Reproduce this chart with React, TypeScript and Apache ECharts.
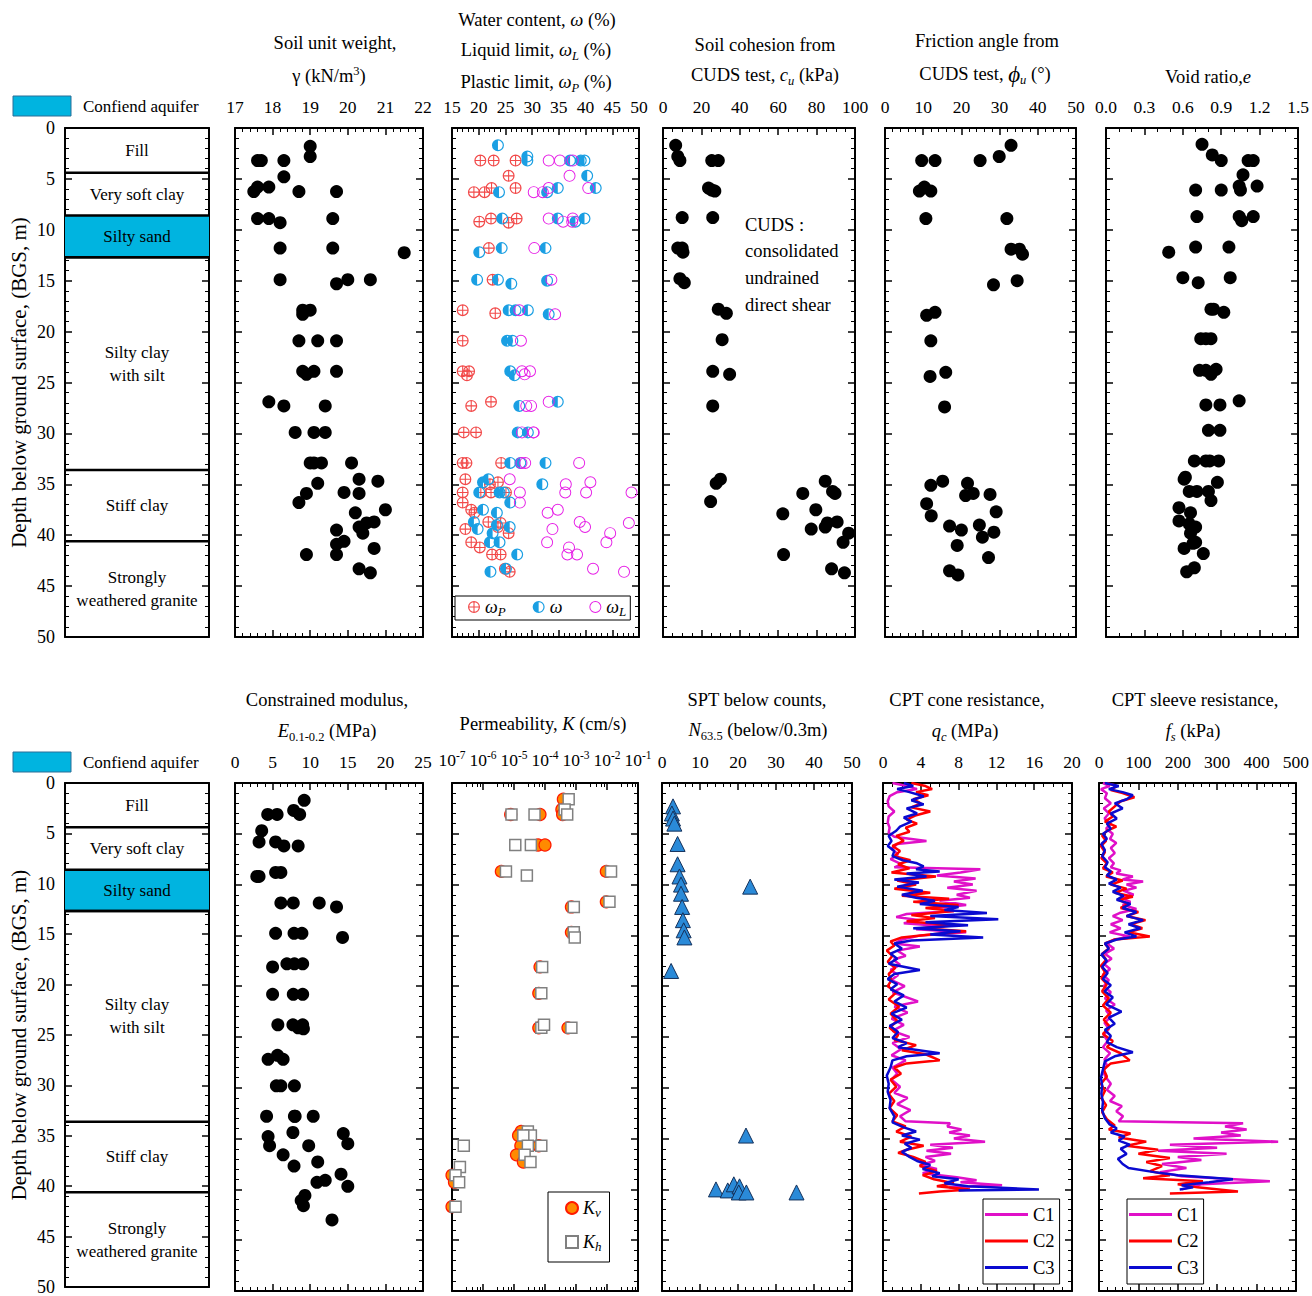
import React, { useEffect, useRef } from "react";
import * as echarts from "echarts";

const SERIF = "'Liberation Serif', 'Times New Roman', 'DejaVu Serif', serif";

// ---------------- data ----------------
const layerNames = ["Fill", "Very soft clay", "Silty sand", "Silty clay\nwith silt", "Stiff clay", "Strongly\nweathered granite"];
const layerTops = [0, 4.4, 8.6, 12.7, 33.6, 40.6];
const layerBottoms = [4.4, 8.6, 12.7, 33.6, 40.6, 50];
const layerIsAquifer = [false, false, true, false, false, false];

// [value, depth]
const unitWeight = [
  [19.0, 1.8], [19.0, 2.8], [17.6, 3.2], [17.7, 3.2], [18.3, 3.2], [18.3, 4.8], [17.6, 5.8], [17.9, 5.8], [17.5, 6.25],
  [18.7, 6.25], [19.7, 6.25], [17.6, 8.9], [17.9, 8.9], [18.2, 9.3], [19.6, 8.9], [18.2, 11.8], [19.6, 11.8], [21.5, 12.25],
  [18.2, 14.9], [19.7, 15.3], [20.0, 14.9], [20.6, 14.9], [18.8, 17.9], [19.0, 17.9], [18.8, 18.3],
  [18.7, 20.9], [19.2, 20.9], [19.7, 20.9], [18.8, 23.9], [18.9, 24.2], [19.1, 23.9], [19.7, 23.9], [17.9, 26.9], [18.3, 27.3],
  [19.4, 27.3], [18.6, 29.9], [19.1, 29.9], [19.4, 29.9], [19.0, 32.9], [19.1, 32.9], [19.3, 32.9], [20.1, 32.9], [20.3, 34.5],
  [20.8, 34.7], [19.2, 34.9], [18.9, 35.9], [19.9, 35.8], [20.3, 35.9], [18.7, 36.8], [21.0, 37.5], [20.2, 37.8], [20.7, 38.7],
  [20.5, 38.8], [20.3, 39.2], [20.4, 39.8], [19.7, 39.5], [19.7, 40.9], [19.9, 40.6], [19.7, 41.9], [18.9, 41.9], [20.7, 41.3],
  [20.3, 43.3], [20.6, 43.7],
];

const plasticLimit = [
  [20.3, 3.2], [22.8, 3.2], [26.9, 3.2], [25.6, 4.7], [22.4, 5.9], [26.9, 5.9], [19.1, 6.3], [21.1, 6.3], [22.3, 8.9],
  [27.1, 8.9], [20.1, 9.2], [25.6, 9.3], [21.9, 11.8], [22.6, 14.9], [17.0, 17.9], [23.1, 18.2],
  [17.0, 20.9], [17.0, 23.9], [18.2, 23.9], [17.8, 24.3], [22.3, 26.9], [18.6, 27.3], [17.2, 29.9], [19.5, 29.9], [17.0, 32.9],
  [17.7, 32.9], [24.2, 32.9], [17.5, 34.5], [22.1, 35.0], [23.6, 34.8], [17.0, 35.8], [20.4, 35.8], [22.3, 35.8], [25.1, 35.8],
  [17.0, 36.8], [18.6, 37.5], [19.2, 37.8], [21.8, 38.7], [24.1, 38.8], [17.5, 39.4], [23.6, 39.2], [25.6, 39.8], [18.6, 40.7],
  [20.2, 41.2], [22.5, 41.9], [24.1, 41.9], [24.9, 43.3], [25.8, 43.6],
];
const waterContent = [
  [23.6, 1.7], [29.1, 2.8], [29.1, 3.2], [37.1, 3.2], [39.1, 3.2], [39.8, 3.2], [40.3, 4.7], [41.9, 5.9], [34.8, 5.9], [32.8, 6.3],
  [23.8, 6.3], [24.4, 8.9], [34.8, 8.9], [39.8, 8.9], [38.1, 9.2], [24.3, 11.8], [32.5, 11.8], [20.1, 12.2], [19.7, 14.9],
  [23.6, 14.9], [32.8, 15.0], [26.1, 15.3], [25.6, 17.9], [26.9, 17.9], [29.2, 17.9], [33.1, 18.3],
  [25.3, 20.9], [26.3, 20.9], [25.9, 23.9], [26.7, 24.3], [34.8, 26.9], [27.6, 27.3], [27.3, 29.9], [29.2, 29.9], [25.9, 32.9],
  [27.8, 32.9], [32.5, 32.9], [21.8, 34.5], [20.8, 34.8], [31.9, 35.0], [20.1, 35.8], [23.9, 35.8], [24.7, 35.8], [25.9, 36.8],
  [20.8, 37.5], [23.4, 37.8], [19.1, 38.7], [23.4, 39.0], [19.8, 39.4], [25.8, 39.2], [22.6, 39.8], [22.1, 40.7], [23.9, 40.7],
  [27.2, 41.9], [25.1, 43.3], [22.2, 43.6],
];
const liquidLimit = [
  [33.1, 3.2], [35.2, 3.2], [37.6, 3.2], [37.0, 4.7], [33.1, 5.9], [40.5, 5.9], [30.3, 6.3], [32.0, 6.3], [33.1, 8.9], [37.6, 8.9],
  [35.8, 9.2], [37.5, 9.2], [30.4, 11.8], [33.6, 14.9], [27.6, 17.9], [34.3, 18.3],
  [27.9, 20.9], [28.1, 23.9], [29.6, 23.9], [28.6, 24.2], [33.1, 26.9], [28.9, 27.3], [29.8, 27.3], [28.1, 29.9], [30.2, 29.9],
  [30.3, 29.9], [28.0, 32.9], [28.7, 32.9], [38.8, 32.9], [25.8, 34.5], [36.3, 35.0], [40.9, 34.8], [27.7, 35.8], [36.2, 35.8],
  [40.1, 35.8], [48.6, 35.8], [27.7, 36.8], [34.8, 37.5], [32.9, 37.8], [38.9, 38.7], [48.1, 38.8], [33.8, 39.4], [39.9, 39.2],
  [44.6, 39.8], [32.8, 40.7], [43.9, 40.7], [36.9, 41.2], [36.6, 41.9], [38.4, 41.9], [41.4, 43.3], [47.2, 43.6],
];

const cohesion = [
  [6.6, 1.7], [7.7, 2.8], [8.8, 3.2], [25.4, 3.2], [28.8, 3.2], [23.7, 5.9], [25.4, 6.1], [27.0, 6.2], [10.0, 8.8], [25.9, 8.8],
  [7.7, 11.8], [10.0, 11.8], [10.4, 12.2], [8.8, 14.8], [11.1, 15.2], [28.8, 17.8], [33.0, 18.2], [30.8, 20.8], [25.9, 23.9],
  [34.7, 24.2], [25.9, 27.3], [27.7, 34.9], [29.9, 34.5], [24.8, 36.7], [84.5, 34.7], [72.8, 35.9], [88.3, 35.7], [89.6, 35.9],
  [62.4, 37.9], [79.6, 37.5], [90.7, 38.7], [85.6, 38.8], [84.5, 39.2], [77.2, 39.4], [96.7, 39.8], [93.8, 40.7], [62.8, 41.9],
  [87.8, 43.3], [94.5, 43.7],
];
const frictionAngle = [
  [33.0, 1.7], [29.9, 2.8], [24.9, 3.2], [9.6, 3.2], [13.1, 3.2], [9.0, 6.2], [10.3, 5.8], [12.0, 6.2], [10.7, 8.9], [31.9, 8.9],
  [33.0, 11.9], [35.2, 11.9], [36.0, 12.4], [34.6, 15.0], [28.4, 15.4], [10.9, 18.4], [13.1, 18.1], [12.0, 20.9], [11.8, 24.4],
  [15.9, 24.0], [15.6, 27.4], [12.0, 35.1], [15.1, 34.7], [21.6, 34.9], [21.1, 36.1], [23.1, 35.9], [27.5, 36.0], [10.9, 36.9],
  [29.1, 37.7], [12.1, 38.1], [16.9, 39.1], [20.0, 39.5], [24.7, 39.0], [28.5, 39.7], [25.5, 40.2], [18.9, 41.0], [27.1, 42.2],
  [16.9, 43.5], [19.1, 43.9],
];
const voidRatio = [
  [0.75, 1.6], [0.83, 2.65], [0.9, 3.2], [1.11, 3.2], [1.15, 3.2], [1.07, 4.6], [0.7, 6.1], [0.9, 6.1], [1.04, 5.7], [1.05, 6.1],
  [1.18, 5.7], [0.71, 8.7], [1.04, 8.7], [1.06, 9.1], [1.15, 8.7], [0.7, 11.7], [0.49, 12.2], [0.96, 11.7], [0.6, 14.7],
  [0.72, 15.2], [0.97, 14.7], [0.82, 17.8], [0.84, 17.8], [0.92, 18.1], [0.74, 20.7], [0.78, 20.7], [0.82, 20.7], [0.73, 23.8],
  [0.78, 23.8], [0.86, 23.7], [0.82, 24.2], [0.78, 27.2], [0.89, 27.2], [1.04, 26.8], [0.8, 29.7], [0.89, 29.7], [0.69, 32.7],
  [0.78, 32.7], [0.81, 32.7], [0.88, 32.7], [0.61, 34.5], [0.62, 34.3], [0.87, 34.8], [0.65, 35.7], [0.71, 35.7], [0.8, 35.7],
  [0.82, 36.6], [0.57, 37.3], [0.66, 37.8], [0.57, 38.6], [0.65, 38.9], [0.7, 39.2], [0.66, 39.8], [0.7, 40.7], [0.68, 40.8],
  [0.61, 41.3], [0.76, 41.8], [0.69, 43.2], [0.63, 43.6],
];

const modulus = [
  [9.2, 1.7], [7.8, 2.7], [8.6, 3.1], [4.35, 3.1], [5.6, 3.1], [3.55, 4.7], [3.2, 5.8], [5.4, 5.8], [6.5, 6.2], [8.4, 6.2],
  [2.9, 9.2], [3.2, 9.2], [5.4, 8.8], [6.1, 8.8], [6.1, 11.8], [7.75, 11.8], [11.2, 11.8], [13.5, 12.2], [5.4, 14.8], [7.85, 14.8],
  [8.9, 14.8], [14.3, 15.2], [5.0, 18.1], [6.9, 17.8], [7.9, 17.8], [9.0, 17.8], [5.0, 20.8], [7.75, 20.8], [9.0, 20.8],
  [5.7, 23.8], [7.7, 23.8], [8.4, 24.1], [9.0, 23.8], [9.1, 24.2], [4.4, 27.2], [5.65, 26.8], [6.4, 27.2], [5.5, 29.8],
  [6.1, 29.8], [7.9, 29.8], [4.2, 32.8], [7.9, 32.8], [8.0, 32.8], [10.4, 32.8], [4.4, 34.8], [4.6, 35.7], [7.7, 34.4],
  [9.8, 35.7], [14.4, 34.5], [15.0, 35.5], [6.4, 36.6], [11.0, 37.3], [7.85, 37.7], [14.1, 38.5], [10.9, 39.3], [12.0, 39.1],
  [15.0, 39.7], [9.3, 40.6], [8.8, 41.1], [9.1, 41.6], [12.9, 43.0],
];

const permKv = [
  [3.9e-4, 1.6], [3.5e-4, 2.6], [7.8e-6, 3.1], [6.9e-5, 3.1], [3.7e-4, 3.1], [6.0e-5, 6.1], [1.0e-4, 6.1], [3.9e-6, 8.7],
  [9.5e-3, 8.7], [9.5e-3, 11.7], [7.1e-4, 12.2], [7.1e-4, 14.7], [6.9e-5, 18.1], [6.3e-5, 20.7], [6.3e-5, 24.1], [5.5e-4, 24.1],
  [1.7e-5, 34.3], [1.4e-5, 34.7], [1.66e-5, 35.7], [6.3e-5, 35.7], [1.2e-5, 36.6], [2.0e-5, 37.3], [1.0e-7, 38.6],
  [1.2e-7, 39.3], [1.0e-7, 41.7],
];
const permKh = [
  [5.8e-4, 1.6], [4.3e-4, 2.6], [8.3e-6, 3.1], [4.6e-5, 3.1], [5.2e-4, 3.1], [1.1e-5, 6.1], [3.5e-5, 6.1], [5.5e-6, 8.7],
  [1.35e-2, 8.7], [2.6e-5, 9.1], [1.2e-2, 11.7], [8.5e-4, 12.2], [8.5e-4, 14.7], [9.1e-4, 15.2], [8.1e-5, 18.1], [7.6e-5, 20.7],
  [7.6e-5, 24.1], [9.3e-5, 23.8], [7.1e-4, 24.1], [2.8e-5, 34.3], [3.5e-5, 34.7], [2.0e-5, 34.7], [2.8e-5, 35.7], [7.6e-5, 35.7],
  [2.4e-7, 35.7], [2.2e-5, 36.6], [3.4e-5, 37.3], [1.8e-7, 37.8], [1.3e-7, 38.6], [1.7e-7, 39.3], [1.3e-7, 41.7],
];

const sptN = [
  [2.9, 2.3], [2.6, 3.0], [2.9, 3.5], [3.25, 4.0], [4.1, 6.0], [4.1, 8.0], [4.6, 9.2], [5.0, 10.0], [5.0, 10.9], [5.3, 12.2],
  [5.5, 13.5], [5.7, 14.5], [5.9, 15.2], [23.2, 10.2], [2.4, 18.5], [22.1, 34.7], [14.2, 40.0], [17.3, 40.1], [18.9, 39.5],
  [20.4, 39.7], [20.2, 40.3], [22.2, 40.3], [35.4, 40.3],
];

const qcC1 = [
  [1.0, 0.0], [2.5, 0.3], [3.6, 0.6], [1.5, 0.9], [0.7, 1.3], [0.5, 1.8], [0.6, 2.3], [1.2, 2.8], [0.6, 3.3], [0.5, 3.9], [0.7, 4.4],
  [0.6, 4.9], [1.2, 5.3], [4.6, 5.7], [1.5, 6.0], [0.9, 6.5], [1.6, 7.0], [0.8, 7.5], [2.0, 8.0], [1.2, 8.3], [10.3, 8.5], [8.2, 8.8],
  [5.7, 9.1], [9.8, 9.4], [7.5, 9.7], [9.5, 10.0], [6.8, 10.3], [9.9, 10.6], [7.8, 11.0], [9.2, 11.3], [6.0, 11.6], [8.8, 12.0],
  [5.7, 12.3], [7.5, 12.6], [2.5, 12.9], [1.4, 13.2], [3.9, 13.5], [2.2, 13.8], [6.5, 14.1], [3.5, 14.4], [8.8, 14.7], [4.0, 15.0],
  [2.0, 15.4], [1.2, 15.8], [3.9, 16.1], [1.5, 16.5], [2.4, 17.0], [1.1, 17.4], [1.8, 17.9], [0.8, 18.4], [1.6, 18.9], [0.9, 19.4],
  [2.3, 20.0], [1.0, 20.6], [3.7, 21.5], [1.2, 22.0], [2.6, 22.6], [0.9, 23.2], [2.2, 23.8], [1.0, 24.4], [2.8, 25.0], [1.0, 25.6],
  [1.9, 26.2], [0.9, 26.8], [2.4, 27.3], [1.0, 28.0], [1.5, 28.6], [0.9, 29.2], [1.8, 29.9], [1.2, 30.5], [2.6, 31.0], [1.5, 31.6],
  [2.9, 32.2], [1.8, 32.8], [2.4, 33.3], [7.1, 33.5], [6.8, 33.8], [8.3, 34.1], [7.0, 34.4], [9.2, 34.7], [7.5, 35.0], [10.8, 35.3],
  [5.0, 35.6], [7.4, 35.9], [4.6, 36.2], [7.2, 36.5], [4.5, 36.8], [5.5, 37.2], [3.9, 37.6], [5.7, 38.0], [4.2, 38.4], [7.8, 38.8],
  [9.9, 39.1], [8.2, 39.3], [12.6, 39.6], [7.0, 39.8], [8.0, 40.0],
];
const qcC2 = [
  [3.0, 0.0], [4.5, 0.3], [5.2, 0.6], [3.5, 0.9], [4.8, 1.2], [3.2, 1.6], [4.0, 2.0], [3.0, 2.4], [5.0, 2.8], [3.4, 3.2], [2.5, 3.6],
  [3.6, 4.0], [2.4, 4.4], [2.8, 4.8], [1.4, 5.2], [2.2, 5.7], [1.0, 6.2], [1.8, 6.7], [1.2, 7.2], [2.9, 7.6], [1.6, 8.0], [2.8, 8.4],
  [0.9, 8.8], [5.6, 9.2], [1.5, 9.6], [3.5, 10.0], [1.2, 10.4], [5.0, 10.8], [2.0, 11.1], [7.0, 11.4], [3.2, 11.7], [8.0, 12.0],
  [4.5, 12.3], [7.5, 12.6], [3.0, 13.0], [5.5, 13.3], [2.5, 13.6], [7.5, 14.0], [4.0, 14.3], [8.8, 14.6], [5.0, 14.9], [2.0, 15.2],
  [0.8, 15.6], [1.2, 16.0], [0.4, 16.5], [1.0, 17.0], [0.5, 17.6], [1.3, 18.2], [0.6, 18.8], [0.9, 19.4], [0.5, 20.0], [1.4, 20.6],
  [0.6, 21.3], [1.7, 22.0], [0.8, 22.7], [1.5, 23.4], [0.7, 24.1], [1.6, 24.8], [1.2, 25.3], [3.5, 25.8], [2.0, 26.3], [4.5, 26.7],
  [6.0, 27.3], [2.5, 27.6], [1.2, 28.0], [1.9, 28.6], [0.8, 29.2], [1.4, 29.9], [0.6, 30.6], [1.2, 31.3], [0.7, 32.0], [1.5, 32.7],
  [1.0, 33.3], [2.4, 33.8], [1.4, 34.3], [3.0, 34.8], [1.8, 35.3], [4.3, 35.7], [2.5, 36.1], [1.6, 36.4], [3.2, 36.8], [4.5, 37.3],
  [3.9, 37.7], [5.7, 38.2], [4.2, 38.6], [5.4, 39.0], [7.5, 39.4], [5.7, 39.7], [9.2, 40.0], [6.0, 40.2], [3.8, 40.4],
];
const qcC3 = [
  [2.2, 0.0], [3.2, 0.3], [1.5, 0.6], [2.8, 0.9], [4.3, 1.3], [3.0, 1.7], [4.3, 2.1], [2.5, 2.5], [3.6, 3.0], [2.2, 3.4], [3.0, 3.8],
  [1.8, 4.3], [1.4, 4.7], [0.6, 5.2], [0.9, 5.7], [0.5, 6.2], [1.2, 6.7], [1.0, 7.2], [2.1, 7.6], [3.6, 7.9], [4.3, 8.2], [3.5, 8.5],
  [6.0, 8.7], [2.5, 8.9], [4.6, 9.2], [1.2, 9.5], [3.8, 9.8], [1.5, 10.2], [4.2, 10.6], [2.0, 11.0], [3.5, 11.3], [5.5, 11.6],
  [3.9, 11.9], [8.0, 12.2], [6.5, 12.5], [11.0, 12.8], [5.0, 13.1], [12.2, 13.4], [4.5, 13.7], [9.0, 14.0], [3.2, 14.3], [8.2, 14.6],
  [5.0, 14.9], [10.6, 15.2], [3.0, 15.5], [1.2, 15.8], [2.0, 16.3], [0.8, 16.8], [1.5, 17.3], [0.6, 17.8], [3.9, 18.4], [1.2, 18.8],
  [0.5, 19.3], [1.5, 19.8], [0.8, 20.3], [2.2, 20.9], [1.2, 21.5], [2.5, 22.1], [0.9, 22.7], [2.0, 23.3], [0.7, 23.9], [1.6, 24.5],
  [1.0, 25.1], [2.5, 25.6], [1.6, 26.0], [6.0, 26.6], [2.5, 26.9], [1.0, 27.3], [0.8, 28.0], [0.4, 28.8], [0.6, 29.6], [0.5, 30.4],
  [0.8, 31.2], [0.7, 32.0], [1.2, 32.8], [1.0, 33.4], [2.2, 33.9], [3.5, 34.3], [2.0, 34.7], [3.9, 35.1], [2.3, 35.5], [3.0, 35.9],
  [2.0, 36.3], [2.8, 36.8], [3.6, 37.2], [5.0, 37.6], [4.2, 38.0], [6.0, 38.4], [5.2, 38.7], [8.0, 39.0], [6.5, 39.4], [9.0, 39.7],
  [16.5, 40.0], [8.0, 40.1],
];
const fsC1 = [
  [10, 0.0], [27, 0.3], [5, 0.6], [20, 1.0], [15, 1.5], [30, 2.0], [12, 2.5], [25, 3.0], [14, 3.5], [30, 4.0], [18, 4.5], [35, 5.0],
  [28, 5.5], [44, 5.9], [30, 6.4], [40, 6.9], [25, 7.4], [38, 7.9], [30, 8.3], [55, 8.6], [44, 8.9], [86, 9.2], [60, 9.5], [112, 9.7],
  [70, 10.0], [95, 10.3], [62, 10.6], [88, 11.0], [55, 11.3], [80, 11.7], [60, 12.0], [95, 12.4], [52, 12.8], [35, 13.1], [60, 13.5],
  [30, 13.9], [55, 14.3], [27, 14.7], [78, 15.1], [40, 15.4], [20, 15.8], [38, 16.3], [15, 16.8], [32, 17.3], [12, 17.8], [28, 18.3],
  [10, 18.9], [25, 19.4], [12, 20.0], [30, 20.6], [15, 21.2], [40, 21.8], [18, 22.4], [30, 23.0], [14, 23.6], [25, 24.2], [12, 24.8],
  [22, 25.4], [10, 26.0], [28, 26.6], [14, 27.2], [20, 27.8], [10, 28.4], [18, 29.0], [30, 29.6], [20, 30.2], [40, 30.8], [28, 31.3],
  [58, 31.8], [44, 32.3], [61, 32.8], [50, 33.3], [366, 33.5], [320, 33.8], [375, 34.1], [310, 34.4], [360, 34.7], [240, 35.0],
  [455, 35.3], [180, 35.6], [300, 35.9], [150, 36.2], [324, 36.5], [200, 36.8], [260, 37.1], [160, 37.5], [222, 37.9], [155, 38.3],
  [210, 38.7], [434, 39.2], [260, 39.5], [230, 39.8], [210, 40.0],
];
const fsC2 = [
  [20, 0.0], [45, 0.3], [30, 0.7], [60, 1.0], [90, 1.4], [55, 1.8], [40, 2.3], [25, 2.8], [35, 3.3], [15, 3.8], [44, 4.3], [20, 4.7],
  [8, 5.2], [18, 5.7], [5, 6.2], [15, 6.8], [6, 7.4], [20, 7.9], [10, 8.4], [35, 8.8], [18, 9.2], [60, 9.6], [30, 10.0], [70, 10.4],
  [40, 10.8], [86, 11.2], [50, 11.5], [75, 11.9], [55, 12.3], [100, 12.7], [70, 13.1], [118, 13.5], [80, 13.9], [110, 14.3],
  [75, 14.7], [129, 15.1], [40, 15.4], [15, 15.8], [25, 16.3], [8, 16.8], [18, 17.4], [5, 18.0], [15, 18.6], [6, 19.2], [20, 19.8],
  [8, 20.5], [25, 21.2], [10, 21.9], [30, 22.6], [12, 23.3], [28, 24.0], [10, 24.7], [35, 25.4], [20, 26.0], [55, 26.6], [78, 27.3],
  [30, 27.6], [12, 28.2], [20, 28.9], [5, 29.6], [15, 30.3], [6, 31.0], [18, 31.7], [8, 32.4], [20, 33.1], [40, 33.7], [25, 34.1],
  [80, 34.5], [50, 34.9], [120, 35.3], [70, 35.7], [150, 36.1], [100, 36.5], [180, 36.9], [120, 37.3], [160, 37.7], [130, 38.2],
  [180, 38.6], [112, 38.9], [264, 39.2], [200, 39.5], [250, 39.8], [353, 40.2], [180, 40.4],
];
const fsC3 = [
  [15, 0.0], [50, 0.3], [25, 0.6], [60, 0.9], [86, 1.2], [70, 1.6], [40, 2.0], [60, 2.5], [30, 3.0], [45, 3.5], [20, 4.0], [30, 4.5],
  [10, 5.0], [20, 5.5], [6, 6.0], [15, 6.6], [8, 7.2], [22, 7.8], [15, 8.3], [30, 8.7], [20, 9.1], [45, 9.5], [25, 9.9], [55, 10.3],
  [35, 10.7], [62, 11.1], [45, 11.5], [80, 11.9], [60, 12.3], [95, 12.7], [70, 13.1], [112, 13.5], [75, 13.9], [105, 14.3], [65, 14.7],
  [95, 15.1], [45, 15.4], [15, 15.8], [25, 16.3], [6, 16.9], [20, 17.5], [8, 18.1], [22, 18.7], [10, 19.3], [30, 19.9], [14, 20.5],
  [35, 21.1], [18, 21.8], [57, 22.5], [25, 23.1], [40, 23.7], [15, 24.3], [30, 24.9], [20, 25.5], [45, 26.0], [86, 26.5], [40, 26.9],
  [15, 27.4], [10, 28.2], [5, 29.0], [8, 29.8], [6, 30.6], [10, 31.4], [8, 32.2], [15, 33.0], [27, 33.6], [45, 34.0], [30, 34.4],
  [65, 34.8], [50, 35.2], [78, 35.6], [55, 36.0], [70, 36.5], [48, 37.0], [60, 37.5], [75, 37.9], [140, 38.3], [200, 38.6],
  [340, 39.0], [280, 39.3], [210, 39.6], [239, 39.8], [205, 40.0],
];

// ---------------- styling ----------------
const CYAN = "#00b4e0";
const C_WP = "#f24a4a";
const C_W = "#1a9fe3";
const C_WL = "#e61ee6";
const C1 = "#e010c8";
const C2 = "#ff0000";
const C3 = "#0a0ad0";
const TITLE_FS = 18.5;

const SYM_PLUS = "path://M0,-1A1,1 0 1,1 0,1A1,1 0 1,1 0,-1ZM0,-0.8A0.8,0.8 0 1,0 0,0.8A0.8,0.8 0 1,0 0,-0.8ZM-0.8,-0.09L0.8,-0.09L0.8,0.09L-0.8,0.09ZM-0.09,-0.8L0.09,-0.8L0.09,0.8L-0.09,0.8Z";
const SYM_HALF = "path://M0,-1A1,1 0 0,0 0,1ZM0,-1A1,1 0 0,1 0,1L0,0.8A0.8,0.8 0 0,0 0,-0.8Z";
const SYM_RING = "path://M0,-1A1,1 0 1,1 0,1A1,1 0 1,1 0,-1ZM0,-0.84A0.84,0.84 0 1,0 0,0.84A0.84,0.84 0 1,0 0,-0.84Z";

const RICH_G: any = {
  n: { fontFamily: SERIF, fontSize: TITLE_FS, fill: "#000", lineHeight: 24 },
  l: { fontFamily: SERIF, fontSize: 17, fill: "#000", lineHeight: 22 },
  i: { fontFamily: SERIF, fontSize: TITLE_FS, fontStyle: "italic", fill: "#000", lineHeight: 24 },
  phi: { fontFamily: SERIF, fontSize: 23, fontStyle: "italic", fill: "#000", lineHeight: 24 },
  sub: { fontFamily: SERIF, fontSize: 12.5, fill: "#000", lineHeight: 13, verticalAlign: "bottom" },
  isub: { fontFamily: SERIF, fontSize: 12.5, fontStyle: "italic", fill: "#000", lineHeight: 13, verticalAlign: "bottom" },
  sup: { fontFamily: SERIF, fontSize: 12.5, fill: "#000", lineHeight: 13, verticalAlign: "top" },
};

function T(x: number, y: number, text: string, align = "center") {
  return {
    type: "text", x, y, silent: true,
    style: { text, align, verticalAlign: "middle", fontFamily: SERIF, fontSize: TITLE_FS, fill: "#000", rich: RICH_G },
  };
}

function buildOption() {
  const grid: any[] = [];
  const xAxis: any[] = [];
  const yAxis: any[] = [];
  const series: any[] = [];

  const tickStyle = { color: "#000", width: 1.5 };
  const addPanel = (left: number, top: number, width: number, height: number, xs: any, profile = false) => {
    const gi = grid.length;
    grid.push({ left, top, width, height, show: false });
    const xi = xAxis.length;
    ["top", "bottom"].forEach((pos) => {
      xAxis.push({
        gridIndex: gi, type: xs.type || "value", position: pos, min: xs.min, max: xs.max,
        interval: xs.interval, splitNumber: xs.split, logBase: 10,
        axisLine: { show: true, onZero: false, lineStyle: { color: "#000", width: 2 } },
        axisTick: { show: !profile, inside: true, length: 7, lineStyle: tickStyle },
        minorTick: { show: !profile, splitNumber: xs.minor || 5, length: 4, lineStyle: { color: "#000", width: 1 } },
        splitLine: { show: false },
        axisLabel: {
          show: pos === "top" && !profile, margin: 12, color: "#000", fontFamily: SERIF, fontSize: 17.5,
          formatter: xs.fmt, rich: xs.rich,
        },
      });
    });
    const yi = yAxis.length;
    ["left", "right"].forEach((pos) => {
      const main = pos === "left" && profile;
      yAxis.push({
        gridIndex: gi, type: "value", position: pos, inverse: true, min: 0, max: 50, interval: 5,
        axisLine: { show: true, onZero: false, lineStyle: { color: "#000", width: 2 } },
        axisTick: { show: true, inside: true, length: 7, lineStyle: tickStyle },
        minorTick: { show: true, splitNumber: 5, length: 4, lineStyle: { color: "#000", width: 1 } },
        splitLine: { show: false },
        axisLabel: { show: main, margin: 10, color: "#000", fontFamily: SERIF, fontSize: 18 },
        name: main ? "Depth below ground surface, (BGS, m)" : "",
        nameLocation: "middle", nameGap: 36, nameRotate: 90,
        nameTextStyle: { fontFamily: SERIF, fontSize: 21, color: "#000" },
      });
    });
    return { xAxisIndex: xi, yAxisIndex: yi };
  };

  const profileSeries = (ax: any) => ({
    type: "custom", ...ax, silent: true, clip: false,
    data: layerTops.map((t, i) => [t, layerBottoms[i], i]),
    encode: { x: -1, y: [0, 1] },
    renderItem: (_p: any, api: any) => {
      const i = api.value(2);
      const a = api.coord([0, api.value(0)]);
      const b = api.coord([1, api.value(1)]);
      const children: any[] = [];
      if (layerIsAquifer[i]) {
        children.push({ type: "rect", shape: { x: a[0], y: a[1], width: b[0] - a[0], height: b[1] - a[1] }, style: { fill: CYAN } });
        children.push({ type: "line", shape: { x1: a[0], y1: b[1], x2: b[0], y2: b[1] }, style: { stroke: "#000", lineWidth: 2.5 } });
      }
      if (api.value(0) > 0) {
        children.push({ type: "line", shape: { x1: a[0], y1: a[1], x2: b[0], y2: a[1] }, style: { stroke: "#000", lineWidth: 2.5 } });
      }
      children.push({
        type: "text", x: (a[0] + b[0]) / 2, y: (a[1] + b[1]) / 2,
        style: { text: layerNames[i], align: "center", verticalAlign: "middle", fontFamily: SERIF, fontSize: 17, fill: "#000", lineHeight: 23 },
      });
      return { type: "group", children };
    },
  });

  const dot = (ax: any, data: any, size = 13) => ({
    type: "scatter", ...ax, data, symbol: "circle", symbolSize: size, itemStyle: { color: "#000", opacity: 1 },
  });

  // ----- top row -----
  const T0 = 128, H0 = 509;
  series.push(profileSeries(addPanel(65, T0, 144, H0, { min: 0, max: 1 }, true)));
  series.push(dot(addPanel(235, T0, 188, H0, { min: 17, max: 22, interval: 1, minor: 5 }), unitWeight));
  const wax = addPanel(452, T0, 187, H0, { min: 15, max: 50, interval: 5, minor: 5 });
  series.push({ type: "scatter", name: "ωP", ...wax, data: plasticLimit, symbol: SYM_PLUS, symbolSize: 12, itemStyle: { color: C_WP, borderWidth: 0, opacity: 1 } });
  series.push({ type: "scatter", name: "ω", ...wax, data: waterContent, symbol: SYM_HALF, symbolSize: 12, itemStyle: { color: C_W, borderWidth: 0, opacity: 1 } });
  series.push({ type: "scatter", name: "ωL", ...wax, data: liquidLimit, symbol: SYM_RING, symbolSize: 12, itemStyle: { color: C_WL, borderWidth: 0, opacity: 1 } });
  series.push(dot(addPanel(663, T0, 192, H0, { min: 0, max: 100, interval: 20, minor: 4 }), cohesion));
  series.push(dot(addPanel(885, T0, 191, H0, { min: 0, max: 50, interval: 10, minor: 5 }), frictionAngle));
  series.push(dot(addPanel(1106, T0, 194, H0, { min: 0, max: 1.5, interval: 0.3, minor: 3, fmt: (v: number) => v.toFixed(1) }), voidRatio));

  // ----- bottom row -----
  const T1 = 783, H1 = 508;
  series.push(profileSeries(addPanel(65, T1, 144, H1, { min: 0, max: 1 }, true)));
  series.push(dot(addPanel(235, T1, 188, H1, { min: 0, max: 25, interval: 5, minor: 5 }), modulus));
  const kax = addPanel(452, T1, 186, H1, {
    type: "log", min: 1e-7, max: 1e-1, split: 6, minor: 5,
    fmt: (v: number) => `{b|10}{s|${Math.round(Math.log10(v))}}`,
    rich: {
      b: { fontFamily: SERIF, fontSize: 17.5, color: "#000", lineHeight: 22 },
      s: { fontFamily: SERIF, fontSize: 11.5, color: "#000", lineHeight: 11, verticalAlign: "top" },
    },
  });
  series.push({ type: "scatter", name: "Kv", ...kax, data: permKv, symbol: "circle", symbolSize: 12, itemStyle: { color: "#ff8a00", borderColor: "#ff1a00", borderWidth: 1.2, opacity: 1 } });
  series.push({ type: "scatter", name: "Kh", ...kax, data: permKh, symbol: "rect", symbolSize: 11, itemStyle: { color: "#fff", borderColor: "#808080", borderWidth: 1.5, opacity: 1 } });
  series.push({
    type: "scatter", ...addPanel(662, T1, 190, H1, { min: 0, max: 50, interval: 10, minor: 5 }), data: sptN,
    symbol: "triangle", symbolSize: 15, itemStyle: { color: "#2a8ad8", borderColor: "#14305a", borderWidth: 1, opacity: 1 },
  });
  const qax = addPanel(883, T1, 189, H1, { min: 0, max: 20, interval: 4, minor: 4 });
  const fax = addPanel(1099, T1, 197, H1, { min: 0, max: 500, interval: 100, minor: 5 });
  const line = (ax: any, name: string, data: any, color: string) => ({
    type: "line", name, ...ax, data, symbol: "none", showSymbol: false,
    lineStyle: { color, width: 2.5 }, itemStyle: { color },
  });
  series.push(line(qax, "C1", qcC1, C1), line(qax, "C2", qcC2, C2), line(qax, "C3", qcC3, C3));
  series.push(line(fax, "C1", fsC1, C1), line(fax, "C2", fsC2, C2), line(fax, "C3", fsC3, C3));

  const legText = {
    fontFamily: SERIF, fontSize: 18, color: "#000",
    rich: {
      i: { fontFamily: SERIF, fontSize: 18, fontStyle: "italic", color: "#000", lineHeight: 22 },
      s: { fontFamily: SERIF, fontSize: 13, fontStyle: "italic", color: "#000", lineHeight: 13, verticalAlign: "bottom" },
      n: { fontFamily: SERIF, fontSize: 18.5, color: "#000", lineHeight: 17 },
    },
  };
  const legFmt = (name: string) => {
    const m: any = { "ωP": "{i|ω}{s|P}", "ω": "{i|ω}", "ωL": "{i|ω}{s|L}", Kv: "{i|K}{s|v}", Kh: "{i|K}{s|h}" };
    return m[name] || `{n|${name}}`;
  };
  const legend = [
    {
      data: ["ωP", "ω", "ωL"], left: 455, top: 596, orient: "horizontal", itemWidth: 12, itemHeight: 12, itemGap: 27,
      padding: [2, 4, 2, 13], borderColor: "#000", borderWidth: 1, backgroundColor: "#fff", selectedMode: false,
      formatter: legFmt, textStyle: legText,
    },
    {
      data: ["Kv", "Kh"], left: 548, top: 1192, orient: "vertical", itemWidth: 12, itemHeight: 12, itemGap: 14,
      padding: [7, 8, 9, 17], borderColor: "#000", borderWidth: 1, backgroundColor: "#fff", selectedMode: false,
      formatter: legFmt, textStyle: legText,
    },
    {
      data: [{ name: "C1", icon: "rect" }, { name: "C2", icon: "rect" }, { name: "C3", icon: "rect" }],
      left: 983, top: 1199, orient: "vertical", itemWidth: 43, itemHeight: 3, itemGap: 7.5,
      padding: [6, 5, 7, 2], borderColor: "#000", borderWidth: 1, backgroundColor: "#fff", selectedMode: false,
      formatter: legFmt, textStyle: legText,
    },
    {
      data: [{ name: "C1", icon: "rect" }, { name: "C2", icon: "rect" }, { name: "C3", icon: "rect" }],
      left: 1127, top: 1199, orient: "vertical", itemWidth: 43, itemHeight: 3, itemGap: 7.5,
      padding: [6, 5, 7, 2], borderColor: "#000", borderWidth: 1, backgroundColor: "#fff", selectedMode: false,
      formatter: legFmt, textStyle: legText,
    },
  ];

  const graphic: any[] = [
    { type: "rect", shape: { x: 13, y: 96, width: 58, height: 20 }, style: { fill: CYAN, stroke: "#2a6f97", lineWidth: 1 } },
    T(83, 106, "{l|Confiend aquifer}", "left"),
    { type: "rect", shape: { x: 13, y: 752, width: 58, height: 20 }, style: { fill: CYAN, stroke: "#2a6f97", lineWidth: 1 } },
    T(83, 762, "{l|Confiend aquifer}", "left"),
    T(335, 43, "{n|Soil unit weight,}"),
    T(329, 76, "{n|γ (kN/m}{sup|3}{n|)}"),
    T(537, 20, "{n|Water content, }{i|ω}{n| (%)}"),
    T(536, 50, "{n|Liquid limit, }{i|ω}{isub|L}{n| (%)}"),
    T(536, 82, "{n|Plastic limit, }{i|ω}{isub|P}{n| (%)}"),
    T(765, 45, "{n|Soil cohesion from}"),
    T(765, 75, "{n|CUDS test, }{i|c}{isub|u}{n| (kPa)}"),
    T(987, 41, "{n|Friction angle from}"),
    T(985, 74, "{n|CUDS test, }{phi|ϕ}{isub|u}{n| (°)}"),
    T(1208, 77, "{n|Void ratio,}{i|e}"),
    T(745, 225, "{n|CUDS :}", "left"),
    T(745, 251, "{n|consolidated}", "left"),
    T(745, 278, "{n|undrained}", "left"),
    T(745, 305, "{n|direct shear}", "left"),
    T(327, 700, "{n|Constrained modulus,}"),
    T(327, 731, "{i|E}{sub|0.1-0.2}{n| (MPa)}"),
    T(543, 724, "{n|Permeability, }{i|K}{n| (cm/s)}"),
    T(757, 700, "{n|SPT below counts,}"),
    T(758, 730, "{i|N}{sub|63.5}{n| (below/0.3m)}"),
    T(967, 700, "{n|CPT cone resistance,}"),
    T(965, 731, "{i|q}{isub|c}{n| (MPa)}"),
    T(1195, 700, "{n|CPT sleeve resistance,}"),
    T(1193, 731, "{i|f}{isub|s}{n| (kPa)}"),
  ];

  return {
    animation: false,
    backgroundColor: "#fff",
    textStyle: { fontFamily: SERIF },
    grid, xAxis, yAxis, series, legend, graphic,
  };
}

export default function App() {
  const ref = useRef<HTMLDivElement>(null);
  useEffect(() => {
    document.body.style.margin = "0";
    const chart = echarts.init(ref.current as HTMLDivElement, null, { renderer: "svg" });
    chart.setOption(buildOption() as any);
    return () => chart.dispose();
  }, []);
  return <div ref={ref} style={{ width: 1312, height: 1296 }} />;
}
